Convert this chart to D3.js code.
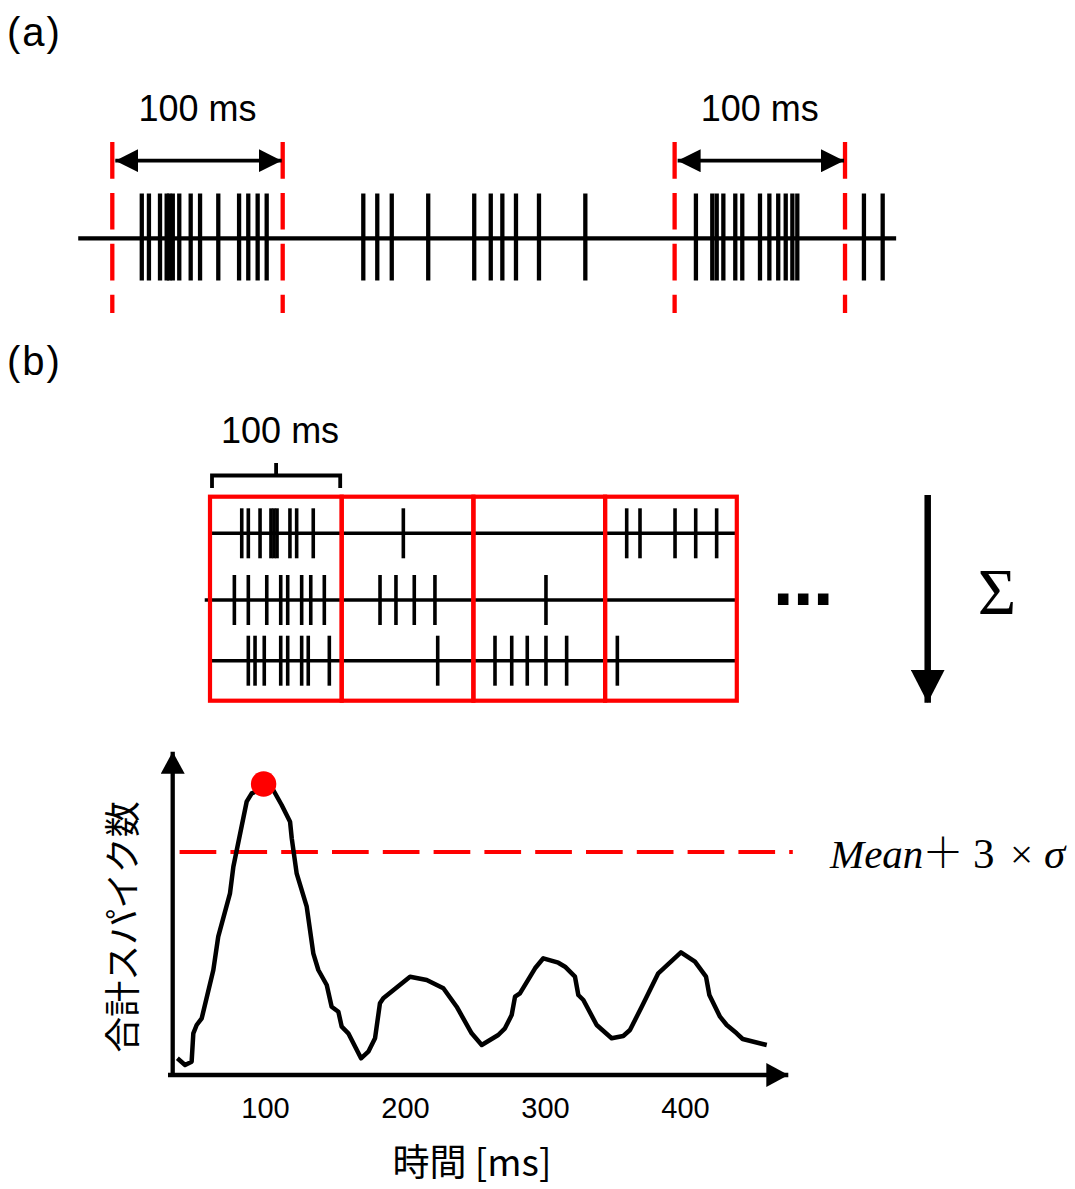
<!DOCTYPE html>
<html>
<head>
<meta charset="utf-8">
<script src="https://cdn.jsdelivr.net/npm/d3@7"></script>
<style>
  body { margin: 0; background: #fff; }
  svg { display: block; }
  .jp { font-family: "Noto Sans CJK JP", sans-serif; }
  .lat { font-family: "Liberation Sans", Arial, sans-serif; }
</style>
</head>
<body>
<svg id="fig" width="1075" height="1189"></svg>
<script>
// ---- data ----
// (a) one long spike train, times in ms (0 = start of first 100 ms window)
const trainSpikes = [17.3, 21.5, 28.0, 31.9, 33.5, 35.5, 39.3, 46.0, 51.5, 62.2, 74.4, 79.8, 85.3, 90.6,
  147.3, 155.5, 164.0, 185.4, 212.4, 222.1, 228.9, 236.9, 250.4, 277.6,
  342.5, 352.1, 354.7, 358.6, 365.6, 369.7, 380.1, 385.6, 390.8, 395.2, 399.1, 402.0,
  441.1, 452.1];
const trainRange = [-20, 460];
const windowStarts = [0, 330];
const windowLength = 100;

// (b) three trials cut into 100 ms bins
const trial1 = [24.1, 29.1, 38.0, 46.3, 48.6, 50.9, 60.7, 65.8, 78.4, 146.8, 316.4, 326.5, 353.1, 368.8, 384.7];
const trial2 = [18.5, 29.1, 43.1, 53.7, 59.0, 69.6, 76.5, 86.8, 129.1, 141.2, 155.1, 170.8, 255.1];
const trial3 = [29.1, 34.2, 41.2, 53.7, 59.0, 69.6, 74.6, 90.6, 172.9, 216.4, 229.1, 240.9, 255.1, 270.8, 309.3];
const trialStarts = [1, -4, 1];
const trialEnd = 400;
const binEdges = [0, 100, 200, 300, 400];

// summed spike count over time
const sumTime = [37.4, 42.9, 47.6, 48.8, 51.2, 54.8, 63.1, 66.6, 75.0, 77.4, 86.9, 90.5, 96.4, 105.9,
  111.9, 117.9, 119.1, 122.6, 129.8, 134.5, 138.1, 144.1, 147.6, 152.4, 154.8, 159.5, 168.6, 173.8,
  178.6, 182.1, 184.5, 203.6, 215.5, 227.4, 236.9, 247.6, 254.8, 266.6, 271.4, 276.2, 278.6, 282.1,
  292.9, 298.8, 309.5, 314.3, 321.4, 323.8, 327.4, 336.9, 347.6, 355.9, 360.7, 369.1, 380.9, 397.1,
  407.1, 415.0, 417.4, 425.0, 429.8, 436.9, 441.2, 458.4];
const sumCount = [1.67, 1.0, 1.33, 4.17, 5.0, 5.67, 10.5, 13.83, 18.17, 20.83, 27.33, 28.17, 28.5, 28.5,
  27.0, 25.33, 23.67, 20.17, 16.83, 12.17, 10.5, 9.0, 6.83, 6.33, 4.83, 4.17, 1.67, 2.33,
  3.67, 7.17, 7.67, 9.83, 9.5, 8.67, 6.83, 4.17, 3.0, 4.0, 4.67, 6.0, 7.83, 8.17,
  10.67, 11.67, 11.23, 10.83, 9.83, 8.0, 7.5, 5.0, 3.67, 3.9, 4.5, 6.83, 10.17, 12.27,
  11.33, 9.83, 8.0, 5.83, 5.0, 4.17, 3.6, 3.0];
const peakTime = 99;
const peakCount = 29.1;
const threshold = 22.3;
const thresholdRange = [39, 477];
const timeTicks = [100, 200, 300, 400];

const svg = d3.select("#fig");
const RED = "#ff0000";

// arrow heads
let defs = svg.append("defs");
function addHead(id, len, half) {
  defs.append("marker")
    .attr("id", id)
    .attr("markerUnits", "userSpaceOnUse")
    .attr("viewBox", "0 " + (-half) + " " + len + " " + (2 * half))
    .attr("refX", len).attr("refY", 0)
    .attr("markerWidth", len).attr("markerHeight", 2 * half)
    .attr("orient", "auto-start-reverse")
    .append("path")
    .attr("d", "M0," + (-half) + "L" + len + ",0L0," + half + "Z")
    .attr("fill", "#000");
}
addHead("headA", 23, 11.5);
addHead("headAxis", 22, 12);
addHead("headSum", 33, 17);

// ================= (a) =================
svg.append("text").attr("class", "lat")
  .attr("x", 7).attr("y", 46).attr("font-size", 40)
  .attr("letter-spacing", 2)
  .text("(a)");

let xA = d3.scaleLinear().domain([0, 100]).range([112.3, 282.7]);
let yA = 238.3;
let gA = svg.append("g");

gA.append("line")
  .attr("x1", xA(trainRange[0])).attr("x2", xA(trainRange[1]))
  .attr("y1", yA).attr("y2", yA)
  .attr("stroke", "#000").attr("stroke-width", 4.3);

gA.selectAll("line.spike").data(trainSpikes).join("line")
  .attr("class", "spike")
  .attr("x1", d => xA(d)).attr("x2", d => xA(d))
  .attr("y1", 193.5).attr("y2", 280.5)
  .attr("stroke", "#000").attr("stroke-width", 4.3);

// window edges
let edges = [];
for (let s of windowStarts) { edges.push(s); edges.push(s + windowLength); }
gA.selectAll("line.edge").data(edges).join("line")
  .attr("class", "edge")
  .attr("x1", d => xA(d)).attr("x2", d => xA(d))
  .attr("y1", 142).attr("y2", 313)
  .attr("stroke", RED).attr("stroke-width", 4.3)
  .attr("stroke-dasharray", "36.7 14.2");

gA.selectAll("line.span").data(windowStarts).join("line")
  .attr("class", "span")
  .attr("x1", d => xA(d) + 3).attr("x2", d => xA(d + windowLength) - 1)
  .attr("y1", 160.7).attr("y2", 160.7)
  .attr("stroke", "#000").attr("stroke-width", 3.8)
  .attr("marker-start", "url(#headA)")
  .attr("marker-end", "url(#headA)");

gA.selectAll("text.span").data(windowStarts).join("text")
  .attr("class", "span lat")
  .attr("x", d => xA(d + windowLength / 2))
  .attr("y", 121).attr("font-size", 36)
  .attr("text-anchor", "middle")
  .text("100 ms");

// ================= (b) =================
svg.append("text").attr("class", "lat")
  .attr("x", 7).attr("y", 375).attr("font-size", 40)
  .attr("letter-spacing", 2)
  .text("(b)");

let xB = d3.scaleLinear().domain([0, 100]).range([210, 341.7]);
let rowY = [533.3, 600, 660.7];
let trials = [trial1, trial2, trial3];
let gB = svg.append("g");

trials.forEach(function(spikes, i) {
  let row = gB.append("g");
  row.append("line")
    .attr("x1", xB(trialStarts[i])).attr("x2", xB(trialEnd))
    .attr("y1", rowY[i]).attr("y2", rowY[i])
    .attr("stroke", "#000").attr("stroke-width", 3.6);
  row.selectAll("line.spike").data(spikes).join("line")
    .attr("class", "spike")
    .attr("x1", d => xB(d)).attr("x2", d => xB(d))
    .attr("y1", rowY[i] - 25).attr("y2", rowY[i] + 25)
    .attr("stroke", "#000").attr("stroke-width", 3.6);
});

// bins
let bins = d3.pairs(binEdges);
gB.selectAll("rect.bin").data(bins).join("rect")
  .attr("class", "bin")
  .attr("x", d => xB(d[0])).attr("width", d => xB(d[1]) - xB(d[0]))
  .attr("y", 496.7).attr("height", 204)
  .attr("fill", "none").attr("stroke", RED).attr("stroke-width", 4.2);

// bracket over first bin
let bx0 = xB(binEdges[0]) + 2, bx1 = xB(binEdges[1]) - 1.5, bm = (bx0 + bx1) / 2;
gB.append("path")
  .attr("d", "M" + bx0 + ",488V475.5H" + bx1 + "V488M" + bm + ",475.5V463")
  .attr("fill", "none").attr("stroke", "#000").attr("stroke-width", 3.8);
gB.append("text").attr("class", "lat")
  .attr("x", bm + 4).attr("y", 443).attr("font-size", 36)
  .attr("text-anchor", "middle")
  .text("100 ms");

gB.append("text")
  .attr("x", 803).attr("y", 620)
  .attr("font-family", "DejaVu Sans").attr("font-size", 60)
  .attr("font-weight", "bold")
  .attr("text-anchor", "middle")
  .text("\u22EF");

gB.append("line")
  .attr("x1", 927.7).attr("x2", 927.7)
  .attr("y1", 495).attr("y2", 702.7)
  .attr("stroke", "#000").attr("stroke-width", 6.5)
  .attr("marker-end", "url(#headSum)");
gB.append("text")
  .attr("x", 997).attr("y", 614)
  .attr("font-family", "Liberation Serif").attr("font-size", 66)
  .attr("text-anchor", "middle")
  .text("\u03A3");

// ================= summed curve =================
let xS = d3.scaleLinear().domain([100, 400]).range([265, 685]);
let yS = d3.scaleLinear().domain([0, 30]).range([1075, 775]);
let gS = svg.append("g");

gS.append("line")
  .attr("x1", 172.7).attr("x2", 172.7)
  .attr("y1", 1077).attr("y2", 751.7)
  .attr("stroke", "#000").attr("stroke-width", 4.3)
  .attr("marker-end", "url(#headAxis)");
gS.append("line")
  .attr("x1", 168).attr("x2", 788.3)
  .attr("y1", 1075).attr("y2", 1075)
  .attr("stroke", "#000").attr("stroke-width", 4.3)
  .attr("marker-end", "url(#headAxis)");

let xAxis = d3.axisBottom(xS).tickValues(timeTicks).tickSize(0).tickPadding(0).tickFormat(d3.format("d"));
let axisG = gS.append("g")
  .attr("transform", "translate(0,1118)")
  .call(xAxis);
axisG.select(".domain").remove();
axisG.selectAll("text")
  .attr("dy", 0)
  .attr("font-family", "Liberation Sans, Arial, sans-serif")
  .attr("font-size", 29)
  .attr("fill", "#000");

gS.append("line")
  .attr("x1", xS(thresholdRange[0])).attr("x2", xS(thresholdRange[1]))
  .attr("y1", yS(threshold)).attr("y2", yS(threshold))
  .attr("stroke", RED).attr("stroke-width", 4.2)
  .attr("stroke-dasharray", "36.7 14.1");

let sumData = sumTime.map((t, i) => ({t: t, c: sumCount[i]}));
let sumLine = d3.line()
  .x(d => xS(d.t))
  .y(d => yS(d.c));
gS.append("path")
  .attr("d", sumLine(sumData))
  .attr("fill", "none").attr("stroke", "#000")
  .attr("stroke-width", 4.5).attr("stroke-linejoin", "round");

gS.append("circle")
  .attr("cx", xS(peakTime)).attr("cy", yS(peakCount))
  .attr("r", 12.7).attr("fill", RED);

let meanText = gS.append("text")
  .attr("y", 868)
  .attr("font-family", "Liberation Serif").attr("font-size", 41);
meanText.append("tspan").attr("x", 830).attr("font-style", "italic").text("Mean");
meanText.append("tspan").attr("x", 922).attr("font-family", "Noto Sans CJK JP")
  .attr("font-weight", 300).attr("font-size", 42).text("\uFF0B");
meanText.append("tspan").attr("x", 973).attr("font-size", 43).text("3");
meanText.append("tspan").attr("x", 1010).text("\u00D7");
meanText.append("tspan").attr("x", 1044).attr("font-style", "italic").attr("font-size", 43).text("\u03C3");

gS.append("text").attr("class", "jp")
  .attr("transform", "translate(136,927) rotate(-90)")
  .attr("font-size", 36).attr("text-anchor", "middle")
  .text("合計スパイク数");

gS.append("text").attr("class", "jp")
  .attr("x", 472).attr("y", 1176).attr("font-size", 37)
  .attr("text-anchor", "middle")
  .text("時間 [ms]");
</script>
</body>
</html>
